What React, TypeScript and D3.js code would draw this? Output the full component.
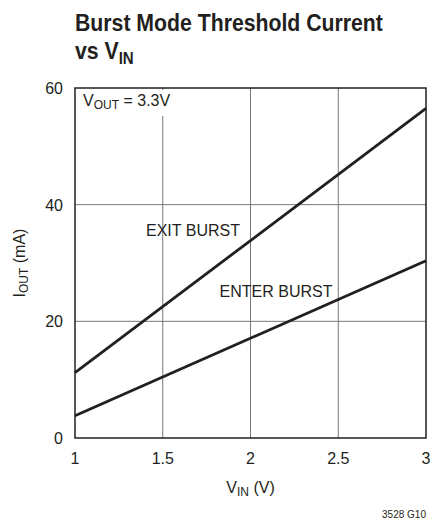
import React from 'react';
import * as d3 from 'd3';

const vin = [1, 3];
const exitBurst = [11.2, 56.5];
const enterBurst = [3.8, 30.4];
const xTicks = [1, 1.5, 2, 2.5, 3];
const yTicks = [0, 20, 40, 60];

const W = 442;
const H = 523;
const margin = { top: 88, right: 16, bottom: 85, left: 75 };
const FONT = '"Liberation Sans Narrow", "Liberation Sans", Arial, sans-serif';
const INK = '#231f20';

const App = () => {
  const x = d3.scaleLinear().domain([1, 3]).range([margin.left, W - margin.right]);
  const y = d3.scaleLinear().domain([0, 60]).range([H - margin.bottom, margin.top]);

  const line = d3
    .line<number>()
    .x((_, i) => x(vin[i]))
    .y((d) => y(d));

  const [x0, x1] = x.range();
  const [y0, y1] = y.range();

  return (
    <svg width={W} height={H} style={{ position: 'absolute', left: 0, top: 0 }} fontFamily={FONT}>
      <rect width={W} height={H} fill="#fff" />
      {/* title, squeezed to mimic the condensed face */}
      <g transform="translate(75,0) scale(0.885,1)">
        <text x={0} y={31} fontSize={24} fontWeight="bold" fill={INK}>
          Burst Mode Threshold Current
        </text>
        <text x={0} y={59} fontSize={24} fontWeight="bold" fill={INK}>
          vs V<tspan fontSize={17} dy={5}>IN</tspan>
        </text>
      </g>

      {/* grid */}
      {xTicks.slice(1, -1).map((t) => (
        <line key={'gx' + t} x1={x(t)} x2={x(t)} y1={y1} y2={y0} stroke="#777" strokeWidth={1} />
      ))}
      {yTicks.slice(1, -1).map((t) => (
        <line key={'gy' + t} x1={x0} x2={x1} y1={y(t)} y2={y(t)} stroke="#777" strokeWidth={1} />
      ))}

      {/* white box behind label */}
      <rect x={x0 + 2} y={y1 + 2} width={95} height={26} fill="#fff" />

      <rect x={x0} y={y1} width={x1 - x0} height={y0 - y1} fill="none" stroke={INK} strokeWidth={1.5} />

      {/* series */}
      <path d={line(exitBurst) || ''} fill="none" stroke={INK} strokeWidth={2.8} />
      <path d={line(enterBurst) || ''} fill="none" stroke={INK} strokeWidth={2.8} />

      <text x={83} y={106} fontSize={16} fill={INK}>
        V<tspan fontSize={12} dy={3}>OUT</tspan>
        <tspan dy={-3}> = 3.3V</tspan>
      </text>
      <text x={193} y={236} fontSize={16} textAnchor="middle" fill={INK}>
        EXIT BURST
      </text>
      <text x={276} y={297} fontSize={16} textAnchor="middle" fill={INK}>
        ENTER BURST
      </text>

      {/* y ticks */}
      {yTicks.map((t) => (
        <text key={'yt' + t} x={63} y={y(t) + 6} fontSize={16} textAnchor="end" fill={INK}>
          {t}
        </text>
      ))}
      {/* x ticks */}
      {xTicks.map((t) => (
        <text key={'xt' + t} x={x(t)} y={464} fontSize={16} textAnchor="middle" fill={INK}>
          {t}
        </text>
      ))}

      <text x={(x0 + x1) / 2} y={493} fontSize={16} textAnchor="middle" fill={INK}>
        V<tspan fontSize={12} dy={3}>IN</tspan>
        <tspan dy={-3}> (V)</tspan>
      </text>
      <text
        transform={`translate(25, ${(y0 + y1) / 2}) rotate(-90)`}
        fontSize={16}
        textAnchor="middle"
        fill={INK}
      >
        I<tspan fontSize={12} dy={3}>OUT</tspan>
        <tspan dy={-3}> (mA)</tspan>
      </text>

      <text x={426} y={518} fontSize={10} textAnchor="end" fill={INK}>
        3528 G10
      </text>
    </svg>
  );
};

export default App;
